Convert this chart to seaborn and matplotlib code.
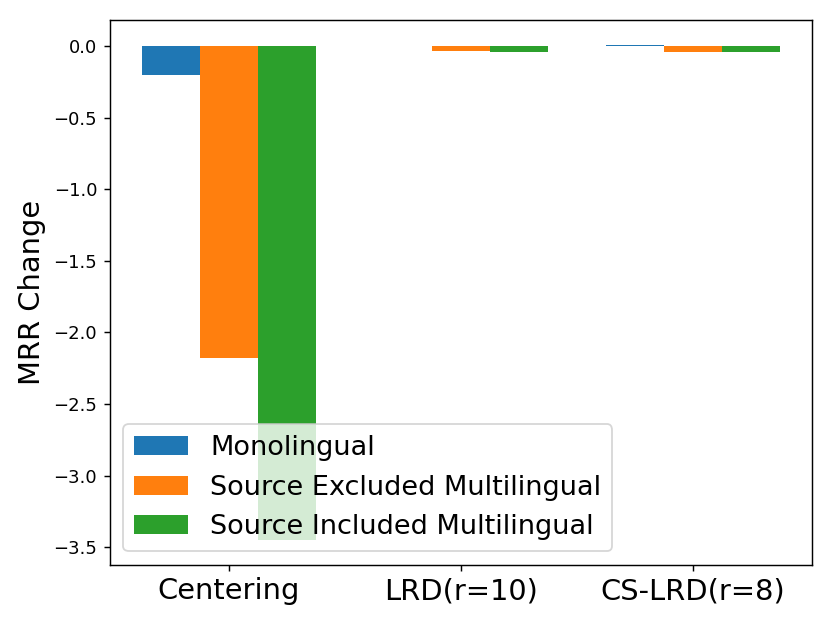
import pandas as pd
import matplotlib
matplotlib.use("Agg")
import matplotlib.pyplot as plt
import seaborn as sns

methods = ["Centering", "LRD(r=10)", "CS-LRD(r=8)"]
settings = ["Monolingual", "Source Excluded Multilingual", "Source Included Multilingual"]
monolingual = [-0.20, -0.0005, 0.01]
source_excluded = [-2.18, -0.035, -0.04]
source_included = [-3.45, -0.04, -0.04]

rows = []
for vals, setting in zip([monolingual, source_excluded, source_included], settings):
    for m, v in zip(methods, vals):
        rows.append({"method": m, "setting": setting, "mrr": v})
df = pd.DataFrame(rows)

fig, ax = plt.subplots(figsize=(6.4, 4.8), dpi=130)
sns.barplot(data=df, x="method", y="mrr", hue="setting", order=methods,
            hue_order=settings, palette=["#1f77b4", "#ff7f0e", "#2ca02c"],
            saturation=1, width=0.75, errorbar=None, ax=ax)
ax.set_xlim(-0.5125, 2.5125)
ax.set_xlabel("")
ax.set_ylabel("MRR Change", fontsize=16)
ax.tick_params(axis="x", labelsize=16)
ax.legend(loc="lower left", fontsize=15, title=None)
fig.subplots_adjust(left=0.132, right=0.976, top=0.968, bottom=0.095)
fig.savefig("out.png")
